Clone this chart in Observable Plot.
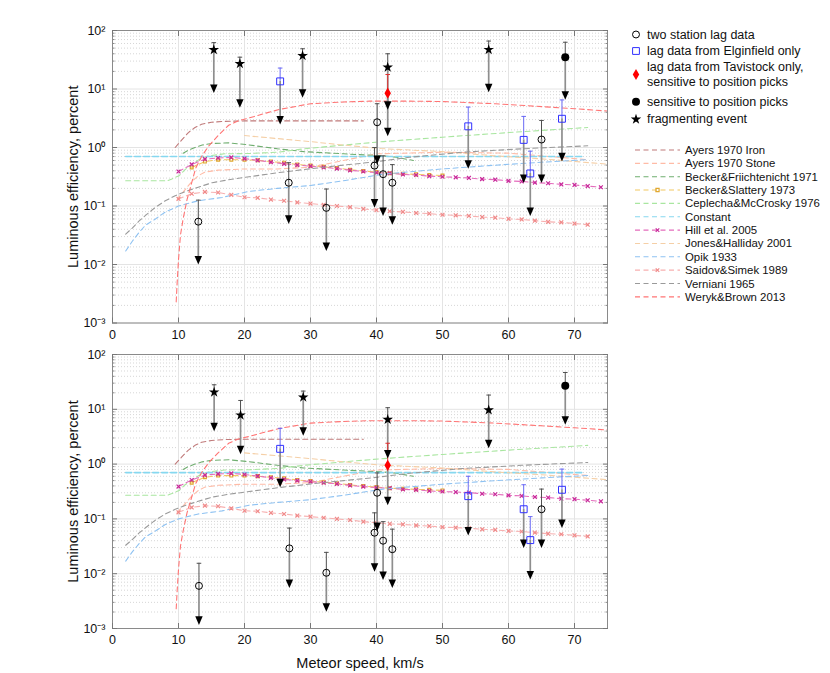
<!DOCTYPE html>
<html><head><meta charset="utf-8">
<script src="https://cdn.jsdelivr.net/npm/d3@7"></script>
<script src="https://cdn.jsdelivr.net/npm/@observablehq/plot@0.6"></script>
<style>
body{margin:0;background:#fff;}
#wrap{position:relative;width:830px;height:673px;font-family:"Liberation Sans",Arial,sans-serif;}
#top,#bot{position:absolute;left:0;}
#top{top:0;} #bot{top:344px;}
#leg{position:absolute;left:0;top:0;pointer-events:none;}
</style></head>
<body><div id="wrap"><div id="top"></div><div id="bot"></div><svg id="leg"></svg></div>
<script>
// ---------- axis ticks ----------
const xTicks = [0, 10, 20, 30, 40, 50, 60, 70];
const yMajor = [0.001, 0.01, 0.1, 1, 10, 100];
const yMantissas = [2, 3, 4, 5, 6, 7, 8, 9];

// ---------- model curves: [speed km/s, efficiency %] ----------
const ayersIron = [[9.5,1.0],[10.5,1.35],[11.5,1.8],[12.5,2.2],[13.5,2.5],[15,2.7],[17,2.8],[20,2.85],[38,2.85]];
const ayersStone = [[9.8,0.13],[11,0.19],[12,0.26],[13,0.33],[14,0.38],[16,0.41],[20,0.43],[25,0.43],[30,0.46],[35,0.6],[40,0.78],[50,0.83],[60,0.8],[72,0.62]];
const beckerFriichtenicht = [[10.7,0.8],[11.5,0.9],[12.5,1.0],[13.6,1.1],[15,1.17],[17.6,1.2],[20.6,1.11],[25,0.95],[29,0.85],[35,0.78],[41,0.72],[43,0.68],[45.6,0.6]];
const beckerSlattery = [[12,0.457],[14,0.575],[16,0.617],[18,0.617],[20,0.617],[22,0.603],[24,0.575],[26,0.55],[28,0.513],[30,0.49],[32,0.468],[34,0.447],[36,0.417],[38,0.398],[40,0.38],[42,0.363],[44,0.355],[46,0.347],[48,0.339],[50,0.331]];
const ceplechaMcCrosky = [[2,0.27],[8.3,0.27],[9,0.29],[10.1,0.33],[11,0.42],[12.1,0.52],[13.3,0.64],[14.6,0.72],[17,0.78],[20.7,0.79],[25,0.83],[29,0.95],[35,1.1],[41,1.26],[50,1.5],[60,1.8],[72,2.2]];
const constant = [[2,0.7],[71.5,0.7]];
const hill = [[10,0.389],[12,0.513],[14,0.631],[16,0.661],[18,0.676],[20,0.646],[22,0.603],[24,0.562],[26,0.525],[28,0.501],[30,0.479],[32,0.457],[34,0.437],[36,0.407],[38,0.389],[40,0.372],[42,0.363],[44,0.347],[46,0.339],[48,0.324],[50,0.316],[52,0.309],[54,0.302],[56,0.288],[58,0.282],[60,0.269],[62,0.263],[64,0.251],[66,0.245],[68,0.234],[70,0.229],[72,0.219],[74,0.209]];
const jonesHalliday = [[20,1.6],[25,1.42],[30,1.26],[35,1.1],[40.6,0.96],[50,0.85],[58,0.72],[65,0.64],[75,0.52]];
const opik = [[2,0.017],[3,0.025],[4,0.035],[5,0.047],[6.5,0.06],[8,0.079],[10,0.1],[13,0.123],[16.6,0.14],[20.7,0.178],[25,0.2],[30,0.224],[35,0.27],[41,0.35],[50,0.43],[57,0.49],[65,0.56],[72,0.62]];
const saidovSimek = [[10,0.132],[12,0.162],[14,0.174],[16,0.17],[18,0.155],[20,0.141],[22,0.138],[24,0.129],[26,0.123],[28,0.115],[30,0.11],[32,0.105],[34,0.1],[36,0.0955],[38,0.0891],[40,0.0851],[42,0.0813],[44,0.0794],[46,0.0759],[48,0.0741],[50,0.0708],[52,0.0692],[54,0.0676],[56,0.0646],[58,0.0631],[60,0.0603],[62,0.0589],[64,0.0562],[66,0.0537],[68,0.0525],[70,0.0501],[72,0.0479]];
const verniani = [[2,0.033],[3,0.042],[4,0.055],[5,0.069],[6.5,0.095],[8,0.123],[9.5,0.15],[11.1,0.178],[13,0.21],[15.1,0.25],[17.5,0.28],[20.7,0.316],[25,0.37],[30.2,0.436],[35,0.5],[39.3,0.56],[45,0.68],[53,0.83],[62,0.95],[72,1.07]];
const werykBrown = [[9.65,0.0023],[9.8,0.005],[10,0.012],[10.3,0.032],[10.7,0.06],[11.3,0.13],[12,0.25],[12.6,0.44],[13.5,0.7],[14.6,1.07],[16,1.6],[17.6,2.4],[19,2.85],[20.7,3.2],[23,3.8],[25.4,4.5],[30,5.6],[35,6.0],[39,6.2],[45,6.2],[50,6.1],[58,5.6],[65,5.0],[70,4.6],[75,4.2]];

const modelNames = ["Ayers 1970 Iron","Ayers 1970 Stone","Becker&Friichtenicht 1971","Becker&Slattery 1973","Ceplecha&McCrosky 1976","Constant","Hill et al. 2005","Jones&Halliday 2001","Opik 1933","Saidov&Simek 1989","Verniani 1965","Weryk&Brown 2013"];
const modelColors = ["#c07a7a","#ffbba6","#6fae6f","#f2c860","#a9e6a0","#86d8f0","#e46cbc","#f5cfa6","#8ec2f2","#f7b0b0","#9a9a9a","#ff7474"];
const modelMarkerColors = [null,null,null,"#e0a830",null,null,"#c8289a",null,null,"#f08a8a",null,null];
const modelData = [ayersIron, ayersStone, beckerFriichtenicht, beckerSlattery, ceplechaMcCrosky, constant, hill, jonesHalliday, opik, saidovSimek, verniani, werykBrown];

// ---------- measurements: [speed, efficiency, upper error, lower limit (arrow)] ----------
const topTwoStation = [[13.0,0.054,0.126,0.0117],[26.7,0.25,0.55,0.058],[32.4,0.093,0.195,0.020],[39.7,0.49,1.0,0.11],[40.1,2.7,5.6,0.61],[41.0,0.35,0.72,0.079],[42.4,0.25,0.51,0.056],[65.0,1.37,2.9,0.29]];
const topElginfield = [[25.4,13.5,22.8,2.9],[53.9,2.3,4.9,0.51],[62.3,1.35,3.4,0.29],[63.3,0.36,0.865,0.079],[68.1,3.1,6.5,0.68]];
const topTavistock = [[41.7,8.5,17.7,1.83]];
const topPositionPicks = [[68.6,35,63,7.7]];
const topFragmenting = [[15.35,46.8,62,10],[19.3,27,35,5.6],[28.8,37,48.7,8.3],[41.7,23.5,40,5.2],[57.0,47,66,10.3]];

const botTwoStation = [[13.1,0.006,0.0155,0.00138],[26.8,0.029,0.068,0.0065],[32.4,0.0104,0.0245,0.0024],[39.7,0.056,0.129,0.0129],[40.1,0.30,0.69,0.071],[41.0,0.040,0.089,0.0091],[42.4,0.028,0.065,0.0065],[65.0,0.15,0.35,0.035]];
const botElginfield = [[25.4,1.9,4.5,0.45],[53.9,0.26,0.60,0.059],[62.3,0.15,0.42,0.035],[63.3,0.041,0.11,0.0093],[68.1,0.34,0.81,0.081]];
const botTavistock = [[41.7,0.95,2.4,0.21]];
const botPositionPicks = [[68.6,27,47,6.2]];
const botFragmenting = [[15.4,20.5,28,4.7],[19.4,7.8,14.5,1.8],[28.9,16.6,21.5,3.9],[41.7,6.5,10.7,1.5],[57.0,9.7,18.2,2.3]];

// ---------- helpers ----------
const yMinor = [];
yMajor.slice(0, -1).forEach(d => yMantissas.forEach(m => yMinor.push(d * m)));
const sup = {"-":"\u207B","0":"\u2070","1":"\u00B9","2":"\u00B2","3":"\u00B3"};
const fmtPow = d => "10" + String(Math.round(Math.log10(d))).split("").map(c => sup[c]).join("");
const capSym = {draw(ctx, size) { const w = Math.sqrt(size); ctx.moveTo(-w, 0); ctx.lineTo(w, 0); }};
const headSym = {draw(ctx, size) { const w = Math.sqrt(size); ctx.moveTo(-w, -w * 1.2); ctx.lineTo(w, -w * 1.2); ctx.lineTo(0, w * 1.1); ctx.closePath(); }};
const rows = a => a.map(([v, val, up, lo]) => ({v, val, up, lo}));
const pairs = a => a.map(([v, e]) => ({v, e}));

const groups = [
  {key: "two", bar: "#505050", dot: {symbol: "circle", r: 3.5, stroke: "#000", fill: "none", strokeWidth: 1}},
  {key: "elg", bar: "#6a6af5", dot: {symbol: "square", r: 3.9, stroke: "#3030ff", fill: "none", strokeWidth: 1}},
  {key: "tav", bar: "#e03030", dot: {symbol: "diamond", r: 3.4, fill: "#ff0000", stroke: "none"}},
  {key: "pos", bar: "#505050", dot: {symbol: "circle", r: 4, fill: "#000", stroke: "none"}},
  {key: "frag", bar: "#505050", dot: {symbol: "star", r: 3.3, fill: "#000", stroke: "none"}}
];

function panel(sets, {height, marginTop, marginBottom, xLabel}) {
  const marks = [
    Plot.gridY(yMinor, {stroke: "#d6d6d6", strokeOpacity: 1, strokeDasharray: "1,2"}),
    Plot.gridY(yMajor, {stroke: "#e4e4e4", strokeOpacity: 1}),
    Plot.gridX(xTicks, {stroke: "#e4e4e4", strokeOpacity: 1})
  ];
  modelData.forEach((d, i) => {
    const dash = i === 5 ? "6,3" : "5,3.5";
    marks.push(Plot.line(pairs(d), {x: "v", y: "e", stroke: modelColors[i], strokeWidth: i === 5 ? 1.6 : 1.1, strokeDasharray: dash, clip: true}));
    if (modelMarkerColors[i]) {
      marks.push(Plot.dot(pairs(d), {x: "v", y: "e", symbol: i === 3 ? "square" : "times", r: i === 3 ? 1.6 : 1.9, stroke: modelMarkerColors[i], strokeWidth: 1.2, fill: "none", clip: true}));
    }
  });
  groups.forEach((g, gi) => {
    const data = rows(sets[gi]);
    marks.push(Plot.ruleX(data, {x: "v", y1: "val", y2: "lo", stroke: "#8e8e8e", strokeWidth: 1.7}));
  });
  groups.forEach((g, gi) => {
    const data = rows(sets[gi]);
    marks.push(Plot.ruleX(data, {x: "v", y1: "val", y2: "up", stroke: g.bar, strokeWidth: 1}));
    marks.push(Plot.dot(data, {x: "v", y: "up", symbol: capSym, r: 1.3, stroke: g.bar, strokeWidth: 1}));
    marks.push(Plot.dot(data, {x: "v", y: "lo", symbol: headSym, r: 2.1, fill: "#000", stroke: "none"}));
  });
  groups.forEach((g, gi) => {
    const data = rows(sets[gi]);
    marks.push(Plot.dot(data, {x: "v", y: "val", ...g.dot}));
  });
  marks.push(
    Plot.frame({stroke: "#8a8a8a"}),
    Plot.axisY(yMajor, {anchor: "left", tickSize: 0, tickPadding: 7, tickFormat: fmtPow, label: null, fontSize: 12.5}),
    Plot.axisY(yMajor, {anchor: "left", tickSize: 0, tickFormat: () => "", label: "Luminous efficiency, percent", labelArrow: "none", labelAnchor: "center", labelOffset: 44.5, fontSize: 14.5}),
    Plot.axisY(yMajor, {anchor: "left", tickSize: -5, tickFormat: () => "", label: null, stroke: "#777"}),
    Plot.axisY(yMajor, {anchor: "right", tickSize: -5, tickFormat: () => "", label: null, stroke: "#777"}),
    Plot.axisY(yMinor, {anchor: "left", tickSize: -2.5, tickFormat: () => "", label: null, stroke: "#888"}),
    Plot.axisY(yMinor, {anchor: "right", tickSize: -2.5, tickFormat: () => "", label: null, stroke: "#888"}),
    Plot.axisX(xTicks, {anchor: "bottom", tickSize: -5, tickFormat: () => "", label: null, stroke: "#777"}),
    Plot.axisX(xTicks, {anchor: "top", tickSize: -5, tickFormat: () => "", label: null, stroke: "#777"}),
    Plot.axisX(xTicks, {anchor: "bottom", tickSize: 0, tickPadding: 7, tickFormat: d => String(d), label: null, fontSize: 12.5}),
    Plot.axisX(xTicks, {anchor: "bottom", tickSize: 0, tickFormat: () => "", label: xLabel, labelArrow: "none", labelAnchor: "center", labelOffset: 39, fontSize: 14.5})
  );
  return Plot.plot({
    width: 830, height, marginLeft: 112, marginRight: 223, marginTop, marginBottom,
    x: {domain: [0, 75], axis: null},
    y: {type: "log", domain: [0.001, 100], axis: null},
    style: {fontFamily: "'Liberation Sans', Arial, sans-serif", fontSize: "12.5px", background: "transparent", overflow: "visible", color: "#111"},
    marks
  });
}

document.getElementById("top").append(panel([topTwoStation, topElginfield, topTavistock, topPositionPicks, topFragmenting], {height: 345, marginTop: 30, marginBottom: 22.5, xLabel: null}));
document.getElementById("bot").append(panel([botTwoStation, botElginfield, botTavistock, botPositionPicks, botFragmenting], {height: 329, marginTop: 10, marginBottom: 45, xLabel: "Meteor speed, km/s"}));

// ---------- legend ----------
const legendMarkerText = [["two station lag data"],["lag data from Elginfield only"],["lag data from Tavistock only,","sensitive to position picks"],["sensitive to position picks"],["fragmenting event"]];
const legendMarkerY = [34.5, 51, 74.5, 101.7, 119.3];
const legendSyms = [
  {type: d3.symbolCircle, size: 38, fill: "none", stroke: "#000"},
  {type: d3.symbolSquare, size: 46, fill: "none", stroke: "#3030ff"},
  {type: d3.symbolDiamond, size: 36, fill: "#ff0000", stroke: "none"},
  {type: d3.symbolCircle, size: 50, fill: "#000", stroke: "none"},
  {type: d3.symbolStar, size: 34, fill: "#000", stroke: "none"}
];
const L = d3.select("#leg").attr("width", 830).attr("height", 673)
  .style("font-family", "'Liberation Sans', Arial, sans-serif");
legendMarkerText.forEach((lines, i) => {
  const s = legendSyms[i], y = legendMarkerY[i];
  L.append("path").attr("d", d3.symbol(s.type, s.size)()).attr("transform", `translate(636,${y})`)
    .attr("fill", s.fill).attr("stroke", s.stroke).attr("stroke-width", 1);
  lines.forEach((t, j) => {
    L.append("text").attr("x", 647).attr("y", y + (lines.length === 2 ? (j === 0 ? -7.8 : 7.8) : 0))
      .attr("dominant-baseline", "central").attr("fill", "#111").style("font-size", "12.5px").text(t);
  });
});
modelNames.forEach((name, i) => {
  const y = 150 + i * 13.35;
  L.append("line").attr("x1", 635).attr("x2", 680).attr("y1", y).attr("y2", y)
    .attr("stroke", modelColors[i]).attr("stroke-width", 1.1).attr("stroke-dasharray", "5,3.5");
  if (modelMarkerColors[i]) {
    L.append("path").attr("d", d3.symbol(i === 3 ? d3.symbolSquare : d3.symbolTimes, 10)())
      .attr("transform", `translate(657.5,${y})`).attr("fill", "none").attr("stroke", modelMarkerColors[i]).attr("stroke-width", 1.2);
  }
  L.append("text").attr("x", 685).attr("y", y).attr("dominant-baseline", "central").attr("fill", "#111").style("font-size", "11.4px").text(name);
});
</script>
</body></html>
